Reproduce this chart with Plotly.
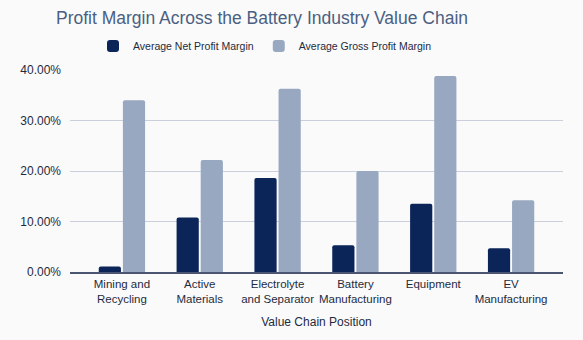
import plotly.graph_objects as go

categories = ["Mining and<br>Recycling", "Active<br>Materials", "Electrolyte<br>and Separator",
              "Battery<br>Manufacturing", "Equipment", "EV<br>Manufacturing"]
net_margin = [0.011, 0.108, 0.186, 0.053, 0.135, 0.047]
gross_margin = [0.340, 0.222, 0.363, 0.200, 0.388, 0.142]
y_ticks = [0, 0.1, 0.2, 0.3, 0.4]

FONT = "Liberation Sans, Arial, sans-serif"

fig = go.Figure()
fig.add_trace(go.Bar(name="Average Net Profit Margin", x=categories, y=net_margin,
                     marker=dict(color="#0b2559", cornerradius=2, line=dict(width=0))))
fig.add_trace(go.Bar(name="Average Gross Profit Margin", x=categories, y=gross_margin,
                     marker=dict(color="#98a8c0", cornerradius=2, line=dict(width=0))))

fig.update_layout(
    width=583, height=340,
    paper_bgcolor="#fafafb", plot_bgcolor="#fafafb",
    margin=dict(l=70, r=20, t=70, b=68),
    barmode="group", bargap=0.38, bargroupgap=0.08,
    font=dict(family=FONT, color="#1f2a3d", size=12),
    title=dict(text="Profit Margin Across the Battery Industry Value Chain",
               x=262 / 583, xanchor="center", y=1 - 18 / 340, yanchor="middle",
               font=dict(size=17.5, color="#4a5f82", family=FONT)),
    legend=dict(orientation="h", x=265 / 583, xref="container", xanchor="center",
                y=1 - 46 / 340, yref="container",
                yanchor="middle", font=dict(size=10.5, color="#1f2a3d"),
                bgcolor="rgba(0,0,0,0)", itemwidth=30, tracegroupgap=0),
    xaxis=dict(range=[-0.667, 5.667], showgrid=False, showline=True, linecolor="#4a5670",
               linewidth=1.5, ticks="", tickangle=0, automargin=False,
               tickfont=dict(size=11.5, color="#1f2a3d"),
               title=dict(text="Value Chain Position", font=dict(size=12, color="#1f2a3d"),
                          standoff=14)),
    yaxis=dict(range=[0, 0.4], tickvals=y_ticks, tickformat=".2%", showgrid=True,
               gridcolor="#c9d0dc", gridwidth=1, zeroline=False, showline=False,
               automargin=False,
               ticks="", ticklabelstandoff=8, tickfont=dict(size=12, color="#1f2a3d")),
)

fig.write_html("out.html")
